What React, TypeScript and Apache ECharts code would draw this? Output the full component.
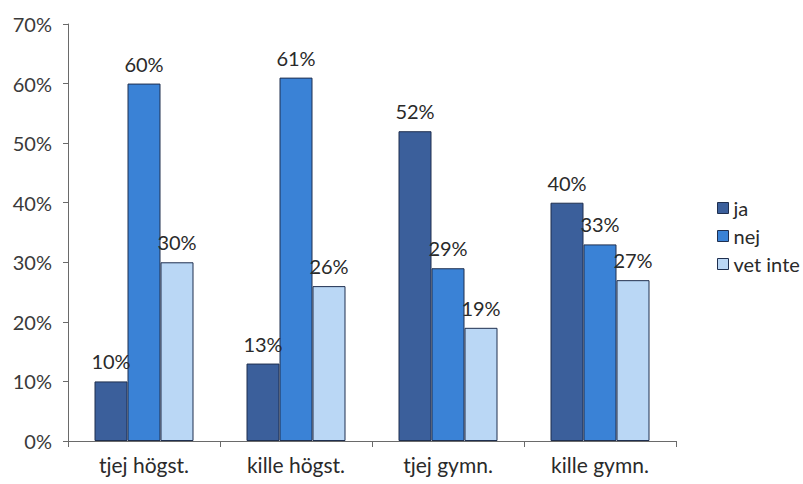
import React, { useEffect, useRef } from "react";
import * as echarts from "echarts";

const categories = ["tjej högst.", "kille högst.", "tjej gymn.", "kille gymn."];
const jaValues = [10, 13, 52, 40];
const nejValues = [60, 61, 29, 33];
const vetInteValues = [30, 26, 19, 27];
const seriesNames = ["ja", "nej", "vet inte"];

const FONT = "Lato, 'Open Sans', sans-serif";

export default function App() {
  const ref = useRef<HTMLDivElement>(null);
  useEffect(() => {
    if (!ref.current) return;
    const chart = echarts.init(ref.current, null, { renderer: "svg" });
    const label = {
      show: true,
      position: "top" as const,
      formatter: "{c}%",
      color: "#2a2a2a",
      fontFamily: FONT,
      fontSize: 20,
      distance: 10,
    };
    const mk = (name: string, data: number[], color: string) => ({
      name,
      type: "bar" as const,
      data,
      barWidth: 33,
      barGap: "0%",
      itemStyle: { color, borderColor: "#1f2f4f", borderWidth: 1 },
      label,
    });
    chart.setOption({
      animation: false,
      backgroundColor: "#ffffff",
      grid: { left: 68, top: 24, right: 127, bottom: 43, containLabel: false },
      legend: {
        orient: "vertical",
        left: 712,
        top: 193,
        itemWidth: 11,
        itemHeight: 11,
        itemGap: 8,
        icon: "rect",
        textStyle: { fontFamily: FONT, fontSize: 20, color: "#2a2a2a" },
        data: seriesNames.map((n) => ({ name: n, itemStyle: { borderColor: "#1f2f4f", borderWidth: 1 } })),
      },
      xAxis: {
        type: "category",
        data: categories,
        axisLine: { lineStyle: { color: "#6a6a6a", width: 1 } },
        axisTick: { show: true, alignWithLabel: false, length: 6, lineStyle: { color: "#6a6a6a" } },
        axisLabel: { fontFamily: FONT, fontSize: 21, color: "#2a2a2a", margin: 13 },
      },
      yAxis: {
        type: "value",
        min: 0,
        max: 70,
        interval: 10,
        axisLine: { show: true, lineStyle: { color: "#6a6a6a", width: 1 } },
        axisTick: { show: true, length: 5, lineStyle: { color: "#6a6a6a" } },
        splitLine: { show: false },
        axisLabel: { formatter: "{value}%", fontFamily: FONT, fontSize: 20, color: "#3a3a3a", margin: 16 },
      },
      series: [
        mk(seriesNames[0], jaValues, "#3b5f9b"),
        mk(seriesNames[1], nejValues, "#3a82d6"),
        mk(seriesNames[2], vetInteValues, "#bad7f5"),
      ],
    });
    return () => chart.dispose();
  }, []);
  return <div ref={ref} style={{ width: 803, height: 484, position: "absolute", left: 0, top: 0 }} />;
}
